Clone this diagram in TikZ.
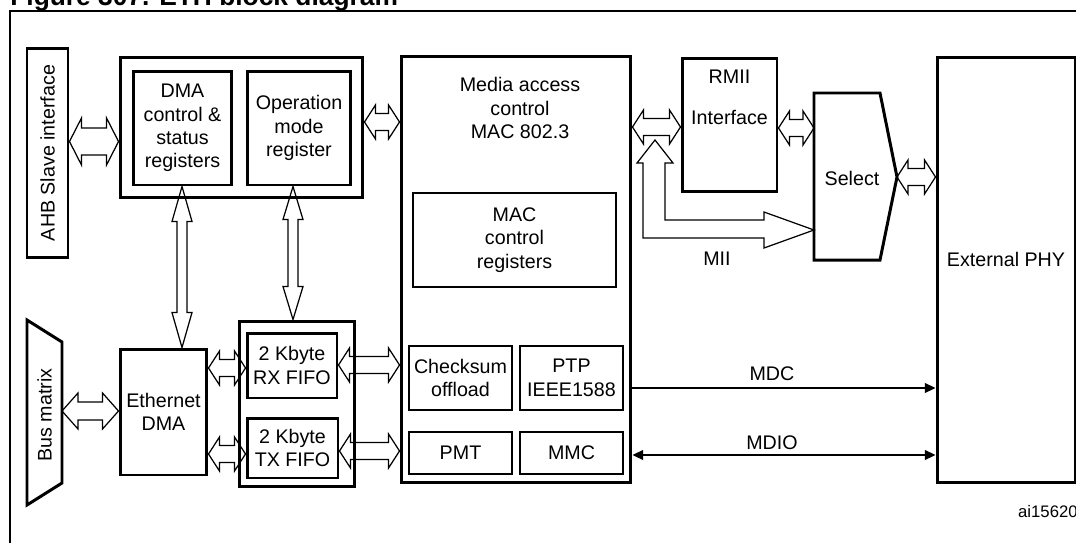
\documentclass[tikz,border=0pt]{standalone}
\usepackage{fontspec}
\setmainfont{Liberation Sans}
\usetikzlibrary{calc,arrows.meta}

\tikzset{
  blk/.style={draw, line width=1.7pt, align=center, inner sep=0pt},
  sub/.style={draw, line width=1.1pt, align=center, inner sep=0pt},
  fat/.style n args={3}{draw, line width=0.7pt, line join=miter, to path={
      let \p1=(\tikztostart), \p2=(\tikztotarget),
          \n1={veclen(\x2-\x1,\y2-\y1)}, \n2={atan2(\y2-\y1,\x2-\x1)}, \n3={\n1-#1} in
      -- ($(\p1)+(\n2:#1)+(\n2+90:#2)$) -- ($(\p1)+(\n2:#1)+(\n2+90:#3)$)
      -- ($(\p1)+(\n2:\n3)+(\n2+90:#3)$) -- ($(\p1)+(\n2:\n3)+(\n2+90:#2)$)
      -- (\p2)
      -- ($(\p1)+(\n2:\n3)+(\n2-90:#2)$) -- ($(\p1)+(\n2:\n3)+(\n2-90:#3)$)
      -- ($(\p1)+(\n2:#1)+(\n2-90:#3)$) -- ($(\p1)+(\n2:#1)+(\n2-90:#2)$)
      -- cycle}},
  fatH/.style={fat={0.22cm}{0.34cm}{0.17cm}},
  fatV/.style={fat={0.7cm}{0.2cm}{0.1cm}},
  sig/.style={line width=0.9pt, >={Triangle[length=6pt,width=5.5pt]}},
}

\begin{document}
\begin{tikzpicture}[x=0.02cm, y=-0.02cm, font=\fontsize{11.2}{13.3}\selectfont]
\useasboundingbox (0,0) rectangle (1076,542);
\clip (0,0) rectangle (1076,542);
% frame and title
\draw[line width=1.1pt] (10,11) rectangle (1100,570);
\node[anchor=base west, inner sep=0pt, font=\bfseries\fontsize{15}{18}\selectfont] (title) at (10,5) {Figure 307. ETH block diagram};

% DMA side
\node[blk, minimum width=0.82cm, minimum height=4.2cm, label={[rotate=90]center:AHB Slave interface}] (ahb) at (47.5,153) {};
\node[blk, minimum width=4.86cm, minimum height=2.82cm] (regs) at (241.5,127.5) {};
\node[blk, minimum width=1.98cm, minimum height=2.28cm] (dmactl) at (182.5,128) {DMA\\control \&\\status\\registers};
\node[blk, minimum width=2.08cm, minimum height=2.28cm] (opmode) at (299,128) {Operation\\mode\\register};
\draw[line width=1.7pt, line join=miter] (27,320) -- (62,342) -- (62,483) -- (27,505) -- cycle;
\coordinate (busE) at (62,411);
\node[rotate=90] (busmx) at (44.5,415) {Bus matrix};
\node[blk, minimum width=1.74cm, minimum height=2.52cm] (ethdma) at (163.5,412) {Ethernet\\DMA};
\node[blk, minimum width=2.32cm, minimum height=3.32cm] (fifos) at (297,404) {};
\node[blk, minimum width=1.8cm, minimum height=1.3cm] (rxfifo) at (292,365.5) {2 Kbyte\\RX FIFO};
\node[blk, minimum width=1.82cm, minimum height=1.2cm] (txfifo) at (292.5,448) {2 Kbyte\\TX FIFO};

% MAC
\node[blk, minimum width=4.6cm, minimum height=8.54cm] (mac) at (516,269.5) {};
\node[align=center] (mactxt) at (520,108) {Media access\\control\\MAC 802.3};
\node[sub, minimum width=4.06cm, minimum height=1.88cm] (macctl) at (514.5,240) {MAC\\control\\registers};
\node[sub, minimum width=2.06cm, minimum height=1.28cm] (chksum) at (460.5,378) {Checksum\\offload};
\node[sub, minimum width=2.06cm, minimum height=1.28cm] (ptp) at (571.5,378) {PTP\\IEEE1588};
\node[sub, minimum width=2.06cm, minimum height=0.84cm] (pmt) at (460.5,453) {PMT};
\node[sub, minimum width=2.06cm, minimum height=0.84cm] (mmc) at (571.5,453) {MMC};

% PHY side
\node[blk, minimum width=1.9cm, minimum height=2.68cm] (rmii) at (729.5,125) {};
\node[align=center] (rmiitxt) at (729.5,97.5) {RMII\\[0.35cm]Interface};
\coordinate (selnw) at (814,93);
\coordinate (selE) at (897,177);
\draw[line width=1.7pt, line join=miter] (selnw) -- (880,93) -- (selE) -- (880,260) -- (814,260) -- cycle;
\node (sel) at (852,178) {Select};
\node[blk, minimum width=2.76cm, minimum height=8.52cm, label={[yshift=0.22cm]center:External PHY}] (phy) at (1006,270) {};

% buses
\draw[fat={0.24cm}{0.47cm}{0.27cm}] (ahb.east |- 0,141.5) to (regs.west |- 0,141.5);
\draw[fatH] (regs.east |- 0,122) to (mac.west |- 0,122);
\draw[fatH] (mac.east |- 0,127) to (rmii.west |- 0,127);
\draw[fatH] (rmii.east |- 0,128) to (selnw |- 0,128);
\draw[fatH] (selE) to (phy.west |- selE);
\draw[fat={0.32cm}{0.36cm}{0.18cm}] (busE) to (ethdma.west |- busE);
\draw[fatH] (ethdma.east |- 0,368) to (rxfifo.west |- 0,368);
\draw[fatH] (ethdma.east |- 0,454) to (txfifo.west |- 0,454);
\draw[fatH] (rxfifo.east |- 0,365) to (mac.west |- 0,365);
\draw[fatH] (txfifo.east |- 0,451) to (mac.west |- 0,451);
\draw[fatV] (dmactl.south -| 182,0) to (ethdma.north -| 182,0);
\draw[fat={0.66cm}{0.2cm}{0.1cm}] (opmode.south -| 293,0) to (fifos.north -| 293,0);

% MII
\draw[line width=0.7pt, line join=miter] (655,140) -- (673,163) -- (665,163) -- (665,220) -- (764,220) -- (764,212)
  -- (selnw |- 0,230) -- (764,248) -- (764,238) -- (643,238) -- (643,163) -- (637,163) -- cycle;
\node (mii) at (717,259) {MII};

% management
\draw[sig, ->] (mac.east |- 0,388) -- (phy.west |- 0,388);
\draw[sig, <->] (mac.east |- 0,455) -- (phy.west |- 0,455);
\node (mdc) at (772,374) {MDC};
\node (mdio) at (772,443) {MDIO};
\node[anchor=west, font=\fontsize{9.5}{11}\selectfont] (ref) at (1012,512) {ai15620c};
\end{tikzpicture}
\end{document}
